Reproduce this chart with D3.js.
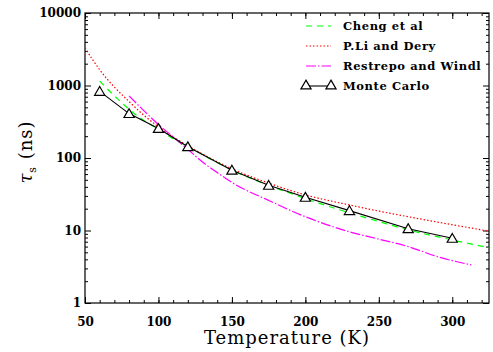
<!DOCTYPE html>
<html><head><meta charset="utf-8">
<script src="https://cdn.jsdelivr.net/npm/d3@7"></script>
<style>body{margin:0;background:#fff}</style>
</head><body>
<svg id="c" width="493" height="352"></svg>
<script>
const xTicks = [50,100,150,200,250,300];
const yTicks = [1,10,100,1000,10000];
const chengT = [60,70,80,90,100,110,120,135,150,175,200,230,250,270,300,325];
const chengV = [1150,720,470,330,250,185,145,98,68,42,27.5,17.5,13.3,10.2,7.4,5.8];
const liT = [50,55,60,70,80,90,100,110,120,135,150,175,200,230,250,270,300,325];
const liV = [3300,2300,1650,950,600,390,270,195,148,100,71,45,31,22.5,18.5,15.5,12,9.8];
const resT = [80,90,100,110,120,130,140,150,175,200,230,250,270,290,313];
const resV = [720,450,290,195,132,88,63,46,26,15.5,9.6,7.6,6.0,4.35,3.35];
const mcT = [60,80,100,120,150,175,200,230,270,300];
const mcV = [830,410,255,143,68,42,28.7,18.8,10.6,7.8];
const legendLabels = ["Cheng et al","P.Li and Dery","Restrepo and Windl","Monte Carlo"];

const svg = d3.select("#c");
const L=85,R=489,T=13,B=303;
const x = d3.scaleLinear().domain([50,325]).range([L,R]);
const y = d3.scaleLog().domain([1,10000]).range([B,T]);
const font = "'DejaVu Serif', serif";

const xMinor = d3.range(50,326,10);
const yMinor = [];
for (let d=1; d<10000; d*=10) for (let k=2;k<10;k++) yMinor.push(d*k);

function axisG(axis, tr){ const g=svg.append("g").attr("transform",tr).call(axis); g.select(".domain").remove(); g.selectAll("line").attr("stroke","#000"); return g; }
// bottom
axisG(d3.axisBottom(x).tickValues(xMinor).tickSizeInner(-3).tickFormat(""), `translate(0,${B})`);
axisG(d3.axisBottom(x).tickValues(xTicks).tickSizeInner(-6).tickPadding(14).tickFormat(d3.format("d")), `translate(0,${B})`)
  .selectAll("text").attr("font-family",font).attr("font-weight","bold").attr("font-size",12).attr("fill","#000");
// top
axisG(d3.axisTop(x).tickValues(xMinor).tickSizeInner(-3).tickFormat(""), `translate(0,${T})`);
axisG(d3.axisTop(x).tickValues(xTicks).tickSizeInner(-6).tickFormat(""), `translate(0,${T})`);
// left
axisG(d3.axisLeft(y).tickValues(yMinor).tickSizeInner(-3).tickFormat(""), `translate(${L},0)`);
axisG(d3.axisLeft(y).tickValues(yTicks).tickSizeInner(-6).tickPadding(4).tickFormat(d3.format("d")), `translate(${L},0)`)
  .selectAll("text").attr("font-family",font).attr("font-weight","bold").attr("font-size",12).attr("fill","#000");
// right
axisG(d3.axisRight(y).tickValues(yMinor).tickSizeInner(-3).tickFormat(""), `translate(${R},0)`);
axisG(d3.axisRight(y).tickValues(yTicks).tickSizeInner(-6).tickFormat(""), `translate(${R},0)`);

svg.append("rect").attr("x",L).attr("y",T).attr("width",R-L).attr("height",B-T)
  .attr("fill","none").attr("stroke","#000").attr("stroke-width",1.2);

const line = d3.line().x(d=>x(d[0])).y(d=>y(d[1])).curve(d3.curveMonotoneX);
const clip = svg.append("clipPath").attr("id","cp").append("rect").attr("x",L).attr("y",T).attr("width",R-L).attr("height",B-T);
const plot = svg.append("g").attr("clip-path","url(#cp)");
const series = [
  {t:chengT,v:chengV,c:"#00ff00",dash:"6,5"},
  {t:liT,v:liV,c:"#ff0000",dash:"1.5,2"},
  {t:resT,v:resV,c:"#ff00ff",dash:"10,2,1.5,2"},
];
series.forEach(s=>{
  plot.append("path").datum(s.t.map((t,i)=>[t,s.v[i]])).attr("d",line)
    .attr("fill","none").attr("stroke",s.c).attr("stroke-width",1.2).attr("stroke-dasharray",s.dash);
});
const mc = mcT.map((t,i)=>[t,mcV[i]]);
plot.append("path").datum(mc).attr("d",d3.line().x(d=>x(d[0])).y(d=>y(d[1])))
  .attr("fill","none").attr("stroke","#000").attr("stroke-width",1.1);
const tri = d3.symbol().type(d3.symbolTriangle).size(45);
plot.selectAll("path.m").data(mc).join("path").attr("class","m").attr("d",tri)
  .attr("transform",d=>`translate(${x(d[0])},${y(d[1])+1})`)
  .attr("fill","#fff").attr("stroke","#000").attr("stroke-width",1.2);

// legend
const lg = svg.append("g");
const rows=[26,46,66,86];
series.forEach((s,i)=>{
  lg.append("line").attr("x1",306).attr("x2",331).attr("y1",rows[i]).attr("y2",rows[i])
    .attr("stroke",s.c).attr("stroke-width",1.2).attr("stroke-dasharray",s.dash);
});
lg.append("line").attr("x1",306).attr("x2",331).attr("y1",rows[3]).attr("y2",rows[3]).attr("stroke","#000").attr("stroke-width",1.1);
[306,331].forEach(px=>lg.append("path").attr("d",tri).attr("transform",`translate(${px},${rows[3]})`)
  .attr("fill","#fff").attr("stroke","#000").attr("stroke-width",1.2));
legendLabels.forEach((t,i)=>{
  lg.append("text").attr("x",343).attr("y",rows[i]+4).text(t).attr("font-family",font)
    .attr("font-weight","bold").attr("font-size",11.5).attr("letter-spacing",0.6);
});

// axis titles
svg.append("text").attr("x",(L+R)/2).attr("y",344).attr("text-anchor","middle")
  .attr("font-family",font).attr("font-size",18).attr("letter-spacing",1).text("Temperature (K)");
const yl = svg.append("text").attr("transform",`translate(32,152) rotate(-90)`).attr("text-anchor","middle")
  .attr("font-family",font).attr("font-size",18).attr("letter-spacing",1);
yl.append("tspan").attr("font-style","italic").text("τ");
yl.append("tspan").attr("font-size",11).attr("dy",4).text("s");
yl.append("tspan").attr("dy",-4).text(" (ns)");
</script>
</body></html>
